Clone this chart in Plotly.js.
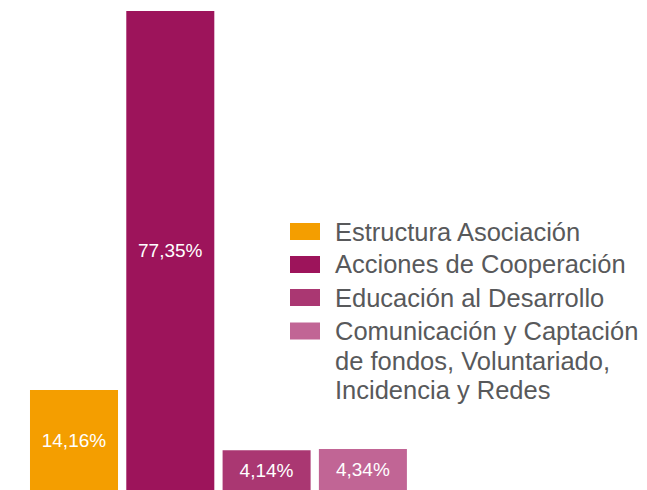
<!DOCTYPE html>
<html><head><meta charset="utf-8">
<script src="https://cdn.plot.ly/plotly-3.0.1.min.js"></script>
<style>html,body{margin:0;padding:0;background:#fff}#c{width:647px;height:490px}</style>
</head><body><div id="c"></div>
<script>
const categories = ["Estructura Asociación", "Acciones de Cooperación", "Educación al Desarrollo", "Comunicación y Captación de fondos, Voluntariado, Incidencia y Redes"];
const legendLines = [["Estructura Asociación"], ["Acciones de Cooperación"], ["Educación al Desarrollo"], ["Comunicación y Captación", "de fondos, Voluntariado,", "Incidencia y Redes"]];
const values = [14.16, 77.35, 4.14, 4.34];
const labels = ["14,16%", "77,35%", "4,14%", "4,34%"];
const colors = ["#F49E00", "#9D145B", "#AA3772", "#C16595"];

// bars start a little below zero (visual baseline offset)
const BASE = -2.5;
const H = 490;
const trace = {
  type: "bar",
  x: [0, 1, 2, 3],
  y: values.map(v => v - BASE),
  base: BASE,
  text: labels,
  textposition: "inside",
  insidetextanchor: "middle",
  textangle: 0,
  textfont: {family: "Liberation Sans, Arial, sans-serif", size: 19, color: "#ffffff"},
  marker: {color: colors, line: {width: 0}},
  hoverinfo: "skip",
  showlegend: false
};

const shapes = [];
const annotations = [];
const swatchCenters = [231.5, 264.5, 297.5, 331];
const lineStep = 29.5;
legendLines.forEach((lines, i) => {
  const cy = swatchCenters[i];
  shapes.push({type: "rect", xref: "paper", yref: "paper",
    x0: 290/647, x1: 320/647, y0: (H-(cy+8.5))/H, y1: (H-(cy-8.5))/H,
    fillcolor: colors[i], line: {width: 0}});
  lines.forEach((t, j) => {
    annotations.push({xref: "paper", yref: "paper", x: 333/647, y: (H-(cy + j*lineStep))/H,
      xanchor: "left", yanchor: "middle", showarrow: false, text: t,
      font: {family: "Liberation Sans, Arial, sans-serif", size: 25.5, color: "#58595B"}});
  });
});

const layout = {
  width: 647, height: 490,
  margin: {l: 0, r: 0, t: 0, b: 0},
  paper_bgcolor: "#ffffff", plot_bgcolor: "#ffffff",
  bargap: 0.086,
  xaxis: {range: [-74/96.3, (647-74)/96.3], visible: false, fixedrange: true},
  yaxis: {range: [BASE, 77.35 + 11/6], visible: false, fixedrange: true},
  shapes: shapes,
  annotations: annotations
};
Plotly.newPlot("c", [trace], layout, {displayModeBar: false, staticPlot: true});
</script></body></html>
